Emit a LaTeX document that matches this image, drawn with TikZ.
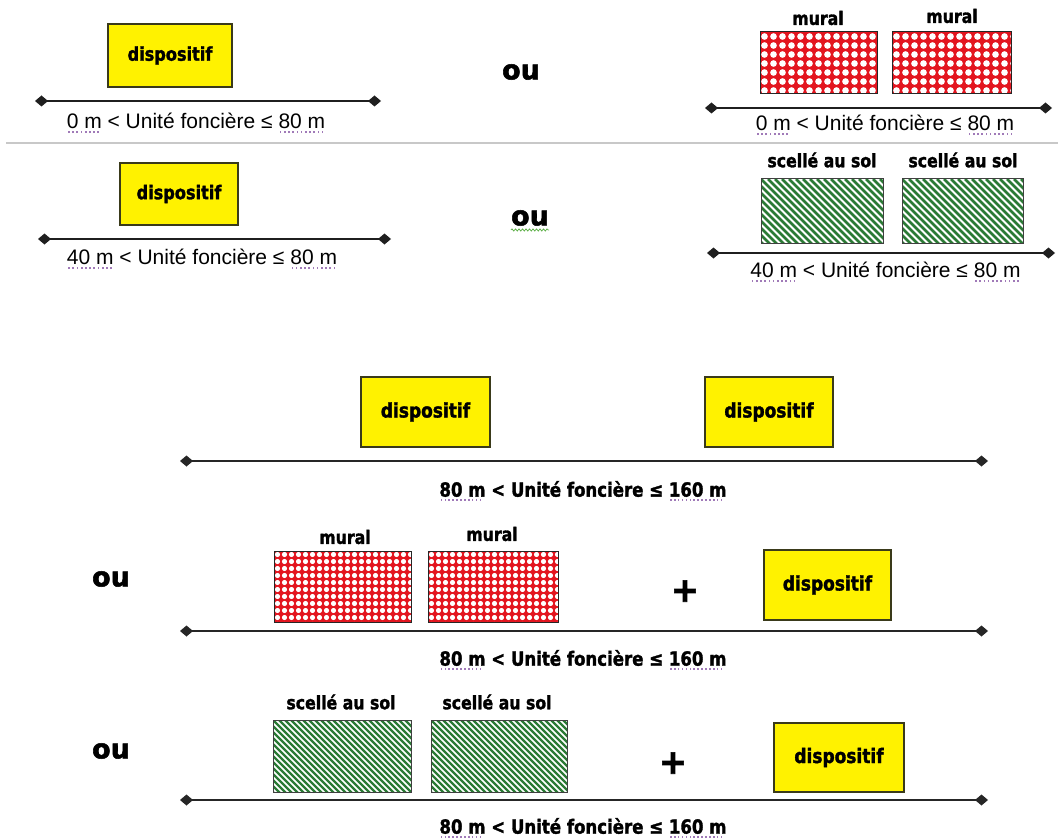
\documentclass[tikz,border=0pt]{standalone}
\usepackage{fontspec}
\setmainfont{Liberation Sans}
\newfontfamily\labfont{DejaVu Sans}[FakeStretch=0.85,FakeBold=1.6]
\newfontfamily\heavyfont{DejaVu Sans}[FakeBold=2]
\usetikzlibrary{arrows.meta,decorations.pathmorphing}
\definecolor{dispborder}{HTML}{3A3A1A}
\definecolor{muralred}{HTML}{E3151F}
\definecolor{hatchgreen}{HTML}{2B7A35}
\definecolor{dotcol}{HTML}{A07AB8}
\definecolor{sepgray}{HTML}{C8C8C8}
\definecolor{squig}{HTML}{5FB04A}
\newsavebox\sqbox
\newcommand\sqd[1]{\sbox\sqbox{#1}\rlap{\raisebox{-0.22em}{\textcolor{dotcol}{\hbox to \wd\sqbox{\leaders\hbox to 0.2em{\hss\rule{0.08em}{0.08em}\hss}\hfill}}}}\usebox\sqbox}
\begin{document}
\begin{tikzpicture}[x=1pt,y=-1pt,
  disp/.style 2 args={draw=dispborder, line width=1.4, fill=yellow, inner sep=0,
    minimum width=#1, minimum height=#2, font=\labfont\bfseries\fontsize{19}{22}\selectfont},
  lab/.style={inner sep=0, font=\labfont\bfseries\fontsize{18.5}{22}\selectfont},
  ou/.style={inner sep=0, font=\heavyfont\bfseries\fontsize{27}{29}\selectfont},
  plus/.style={inner sep=0, font=\heavyfont\bfseries\fontsize{34}{36}\selectfont},
  rng/.style={inner sep=0, font=\fontsize{21}{24}\selectfont},
  brng/.style={inner sep=0, font=\labfont\bfseries\fontsize{19.5}{22}\selectfont},
  rangeline/.style={line width=2.2, draw=black!88, {Diamond[length=13pt,width=11pt]}-{Diamond[length=13pt,width=11pt]}},
  brangeline/.style={line width=2.6, draw=black!85, {Diamond[length=13pt,width=11pt]}-{Diamond[length=13pt,width=11pt]}},
  mural/.style n args={3}{draw=black!85, line width=1, fill=muralred, inner sep=0,
    minimum width=#1, minimum height=#2,
    path picture={
        \foreach \i in {0,...,21}{\foreach \j in {0,...,12}{
          \fill[white] ([xshift={(\i+0.5)*#3}, yshift={-(\j+0.5)*#3}]path picture bounding box.north west) circle[radius=0.37*#3];}}
      }},
  hatch/.style n args={4}{draw=black!75, line width=1, fill=white, inner sep=0,
    minimum width=#1, minimum height=#2,
    path picture={
        \foreach \k in {-14,...,30}{
          \draw[hatchgreen, line width=#4] ([xshift={\k*#3}]path picture bounding box.north west) -- ++(95,95);}
      }}
]
\useasboundingbox (0,0) rectangle (1058,840);

% ---------- Section 1 ----------
\node[disp={124}{63}] (d1) at (170,55.5) {dispositif};
\coordinate (l1a) at (35,101); \coordinate (l1b) at (381,101);
\draw[rangeline] (l1a) -- (l1b);
\node[rng] (t1) at (196,123) {\sqd{0 m} < Unité foncière ≤ \sqd{80 m}};
\node[ou] (ou1) at (521,72) {ou};
\node[mural={117}{62}{9}] (m1) at (818.5,63) {};
\node[mural={119}{62}{9}] (m2) at (951.5,63) {};
\node[lab] (lm1) at (818,18) {mural};
\node[lab] (lm2) at (952,16) {mural};
\coordinate (l2a) at (705,108); \coordinate (l2b) at (1052,108);
\draw[rangeline] (l2a) -- (l2b);
\node[rng] (t2) at (885,125) {\sqd{0 m} < Unité foncière ≤ \sqd{80 m}};
\coordinate (s1) at (6,143); \coordinate (s2) at (1058,143);
\draw[sepgray, line width=1.2] (s1) -- (s2);

% ---------- Section 2 ----------
\node[disp={118}{62}] (d2) at (179,194) {dispositif};
\coordinate (l3a) at (38,239); \coordinate (l3b) at (391,239);
\draw[rangeline] (l3a) -- (l3b);
\node[rng] (t3) at (202,259) {\sqd{40 m} < Unité foncière ≤ \sqd{80 m}};
\node[ou] (ou2) at (530,218) {ou};
\draw[squig, line width=0.8, decorate, decoration={snake, amplitude=1pt, segment length=3.5pt}]
  ([yshift=-4pt]ou2.south west) -- ([yshift=-4pt]ou2.south east);
\node[hatch={122}{64}{7}{2.5}] (h1) at (822,211) {};
\node[hatch={121}{64}{7}{2.5}] (h2) at (962.5,211) {};
\node[lab] (lh1) at (822,160) {scellé au sol};
\node[lab] (lh2) at (963,160) {scellé au sol};
\coordinate (l4a) at (707,253); \coordinate (l4b) at (1055,253);
\draw[rangeline] (l4a) -- (l4b);
\node[rng] (t4) at (885.5,272) {\sqd{40 m} < Unité foncière ≤ \sqd{80 m}};

% ---------- Section 3 ----------
\node[disp={129}{70}, font=\labfont\bfseries\fontsize{20}{22}\selectfont] (d3) at (425.5,412) {dispositif};
\node[disp={128}{70}, font=\labfont\bfseries\fontsize{20}{22}\selectfont] (d4) at (769,412) {dispositif};
\coordinate (l5a) at (180,461); \coordinate (l5b) at (988,461);
\draw[brangeline] (l5a) -- (l5b);
\node[brng] (t5) at (583,491) {\sqd{80 m} < Unité foncière ≤ \sqd{160 m}};

% ---------- Section 4 ----------
\node[ou] (ou3) at (111,579) {ou};
\node[mural={137}{71}{7}] (m3) at (342.5,586.5) {};
\node[mural={130}{71}{7}] (m4) at (493,586.5) {};
\node[lab] (lm3) at (345,537) {mural};
\node[lab] (lm4) at (492,534) {mural};
\node[plus] (p1) at (685,591) {+};
\node[disp={127}{70}, font=\labfont\bfseries\fontsize{20}{22}\selectfont] (d5) at (827.5,585) {dispositif};
\coordinate (l6a) at (180,631); \coordinate (l6b) at (988,631);
\draw[brangeline] (l6a) -- (l6b);
\node[brng] (t6) at (583,660) {\sqd{80 m} < Unité foncière ≤ \sqd{160 m}};

% ---------- Section 5 ----------
\node[ou] (ou4) at (111,751) {ou};
\node[hatch={138}{72}{6}{2.2}] (h3) at (342,756) {};
\node[hatch={136}{72}{6}{2.2}] (h4) at (499,756) {};
\node[lab] (lh3) at (341,702) {scellé au sol};
\node[lab] (lh4) at (497,702) {scellé au sol};
\node[plus] (p2) at (673,763) {+};
\node[disp={130}{69}, font=\labfont\bfseries\fontsize{20}{22}\selectfont] (d6) at (839,757.5) {dispositif};
\coordinate (l7a) at (180,800); \coordinate (l7b) at (988,800);
\draw[brangeline] (l7a) -- (l7b);
\node[brng] (t7) at (583,828) {\sqd{80 m} < Unité foncière ≤ \sqd{160 m}};
\end{tikzpicture}
\end{document}
